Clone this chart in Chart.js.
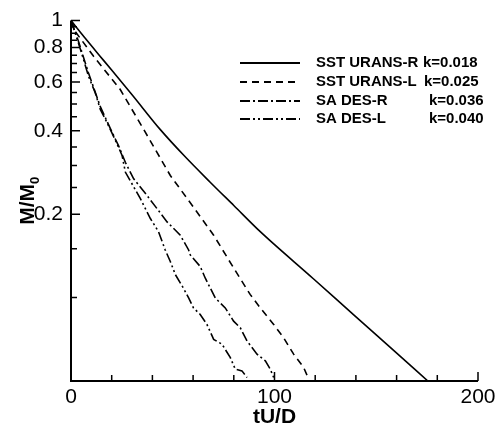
<!DOCTYPE html>
<html>
<head>
<meta charset="utf-8">
<script src="https://cdn.jsdelivr.net/npm/chart.js@4.4.0/dist/chart.umd.min.js"></script>
<style>
  html, body { margin: 0; padding: 0; background: #fff; }
  #wrap { width: 503px; height: 430px; }
</style>
</head>
<body>
<div id="wrap"><canvas id="chart" width="503" height="430"></canvas></div>
<script>
// Data (tU/D, M/M0)
const sstRT = [0, 7, 15.9, 30, 43.9, 56, 68.4, 80, 93.0, 119.1, 138.8, 158.4, 175.1];
const sstRM = [1, 0.863, 0.720, 0.540, 0.404, 0.323, 0.261, 0.215, 0.173, 0.117, 0.0868, 0.0646, 0.0502];

const sstLT = [0, 2.1, 11.1, 24.2, 35.7, 48.8, 60.2, 70.1, 79.9, 88.1, 93.0, 99.6, 104.5, 109.4, 114.3, 116.8];
const sstLM = [1, 0.913, 0.743, 0.564, 0.405, 0.276, 0.212, 0.168, 0.128, 0.1025, 0.0918, 0.080, 0.0716, 0.0625, 0.056, 0.0508];

const desRT = [0, 3.7, 8.6, 14.4, 19.3, 23.4, 26.7, 30.8, 37.3, 42.3, 47.2, 53.7, 57.8, 58.6, 63.5, 66.0, 70.9, 75.8, 79.9, 83.2, 86.5, 91.4, 95.5, 97.9, 99.6];
const desRM = [1, 0.84, 0.647, 0.489, 0.408, 0.353, 0.308, 0.2685, 0.234, 0.2094, 0.1877, 0.168, 0.1486, 0.1426, 0.1295, 0.1175, 0.0997, 0.0918, 0.0822, 0.0778, 0.0697, 0.0625, 0.0591, 0.0552, 0.0515];

const desLT = [0, 3.7, 6.2, 8.6, 11.9, 14.4, 16.9, 19.3, 22.3, 25.1, 26.7, 34.1, 39.0, 43.0, 46.3, 48.8, 51.3, 55.3, 57.8, 60.2, 63.5, 66.8, 70.1, 74.2, 78.3, 80.7, 84.0, 86.5];
const desLM = [1, 0.829, 0.722, 0.630, 0.549, 0.478, 0.440, 0.405, 0.363, 0.326, 0.284, 0.2275, 0.193, 0.173, 0.1486, 0.135, 0.121, 0.108, 0.0997, 0.0918, 0.0869, 0.080, 0.0707, 0.0679, 0.0607, 0.0552, 0.0544, 0.0515];

const seriesNames = ['SST URANS-R', 'SST URANS-L', 'SA DES-R', 'SA DES-L'];
const seriesK = ['k=0.018', 'k=0.025', 'k=0.036', 'k=0.040'];

// Ticks
const xMajor = [0, 100, 200];
const xMinor = [20, 40, 60, 80, 120, 140, 160, 180];
const yMajor = [1, 0.8, 0.6, 0.4, 0.2];
const yMinor = [0.1, 0.15, 0.25, 0.3, 0.35, 0.45, 0.5, 0.55, 0.65, 0.7, 0.75, 0.85, 0.9, 0.95];

const toPts = (ts, ms) => ts.map((t, i) => ({ x: t, y: ms[i] }));

const dashes = [[], [7, 5], [10, 3, 2, 3], [10, 3, 2, 3, 2, 3]];
const legendX = [423, 424, 429, 429];

const datasets = [
  toPts(sstRT, sstRM),
  toPts(sstLT, sstLM),
  toPts(desRT, desRM),
  toPts(desLT, desLM)
].map((pts, i) => ({
  label: seriesNames[i],
  data: pts,
  borderColor: '#000',
  borderWidth: 1.6,
  borderDash: dashes[i],
  pointRadius: 0,
  tension: 0,
  cubicInterpolationMode: i === 0 ? 'monotone' : 'default',
  fill: false
}));

// axes, tick marks, legend, y title
const decorPlugin = {
  id: 'decor',
  afterDraw: (chart) => {
    const ctx = chart.ctx;
    const xs = chart.scales.x;
    const ys = chart.scales.y;
    const left = xs.left, right = xs.right, top = ys.top, bottom = ys.bottom;
    ctx.save();
    ctx.strokeStyle = '#000';
    ctx.lineWidth = 2;
    ctx.setLineDash([]);
    ctx.beginPath();
    ctx.moveTo(left, top);
    ctx.lineTo(left, bottom);
    ctx.lineTo(right, bottom);
    ctx.stroke();

    ctx.lineWidth = 1.5;
    ctx.beginPath();
    xMajor.forEach(v => {
      const px = xs.getPixelForValue(v);
      ctx.moveTo(px, bottom);
      ctx.lineTo(px, bottom - 9);
    });
    xMinor.forEach(v => {
      const px = xs.getPixelForValue(v);
      ctx.moveTo(px, bottom);
      ctx.lineTo(px, bottom - 6);
    });
    yMajor.forEach(v => {
      const py = ys.getPixelForValue(v);
      ctx.moveTo(left, py);
      ctx.lineTo(left + 9, py);
    });
    yMinor.forEach(v => {
      const py = ys.getPixelForValue(v);
      ctx.moveTo(left, py);
      ctx.lineTo(left + 6, py);
    });
    ctx.stroke();

    // legend
    const rows = [63, 82, 101, 119];
    ctx.font = 'bold 14px "Liberation Sans", Arial, sans-serif';
    ctx.fillStyle = '#000';
    ctx.textBaseline = 'middle';
    ctx.textAlign = 'left';
    const stretchText = (txt, x, y) => {
      ctx.save();
      ctx.translate(x, y);
      ctx.scale(1.07, 1);
      ctx.fillText(txt, 0, 0);
      ctx.restore();
    };
    rows.forEach((y, i) => {
      ctx.lineWidth = 2;
      ctx.setLineDash(dashes[i]);
      ctx.beginPath();
      ctx.moveTo(240, y);
      ctx.lineTo(300, y);
      ctx.stroke();
      ctx.setLineDash([]);
      stretchText(seriesNames[i], 316, y);
      stretchText(seriesK[i], legendX[i], y);
    });

    // y title M/M0
    ctx.translate(34, (top + bottom) / 2);
    ctx.rotate(-Math.PI / 2);
    ctx.textBaseline = 'alphabetic';
    ctx.font = 'bold 21px "Liberation Sans", Arial, sans-serif';
    const main = 'M/M';
    const w = ctx.measureText(main).width;
    ctx.font = 'bold 13px "Liberation Sans", Arial, sans-serif';
    const ws = ctx.measureText('0').width;
    const x0 = -(w + ws) / 2;
    ctx.font = 'bold 21px "Liberation Sans", Arial, sans-serif';
    ctx.fillText(main, x0, 0);
    ctx.font = 'bold 13px "Liberation Sans", Arial, sans-serif';
    ctx.fillText('0', x0 + w, 5);
    ctx.restore();
  }
};

const ctx = document.getElementById('chart');
new Chart(ctx, {
  type: 'line',
  data: { datasets: datasets },
  options: {
    responsive: false,
    animation: false,
    layout: { padding: { left: 0, right: 25, top: 17, bottom: 0 } },
    plugins: { legend: { display: false }, tooltip: { enabled: false } },
    scales: {
      x: {
        type: 'linear',
        min: 0,
        max: 200,
        grid: { display: false, drawTicks: false },
        border: { display: false },
        afterBuildTicks: (s) => { s.ticks = xMajor.map(v => ({ value: v })); },
        afterFit: (s) => { s.height = 49; },
        ticks: {
          autoSkip: false,
          maxRotation: 0,
          padding: 4,
          color: '#000',
          font: { family: '"Liberation Sans", Arial, sans-serif', size: 21 }
        },
        title: {
          display: true,
          text: 'tU/D',
          color: '#000',
          padding: { top: 0, bottom: 0 },
          font: { family: '"Liberation Sans", Arial, sans-serif', size: 21, weight: 'bold' }
        }
      },
      y: {
        type: 'logarithmic',
        min: 0.05,
        max: 1,
        grid: { display: false, drawTicks: false },
        border: { display: false },
        afterBuildTicks: (s) => { s.ticks = yMajor.map(v => ({ value: v })); },
        afterFit: (s) => { s.width = 71; },
        ticks: {
          autoSkip: false,
          padding: 8,
          color: '#000',
          font: { family: '"Liberation Sans", Arial, sans-serif', size: 21 },
          callback: (v) => String(v)
        }
      }
    }
  },
  plugins: [decorPlugin]
});
</script>
</body>
</html>
